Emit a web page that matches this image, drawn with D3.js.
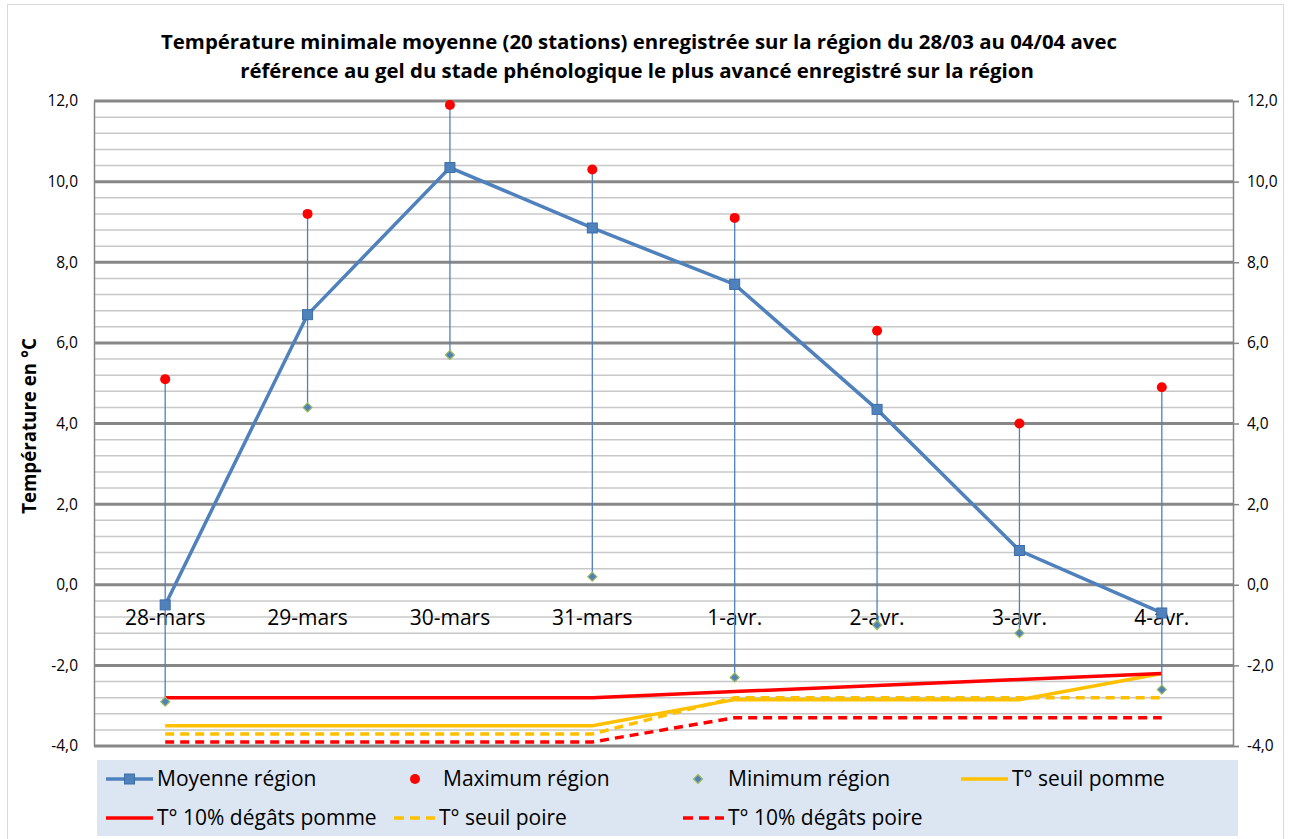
<!DOCTYPE html>
<html>
<head>
<meta charset="utf-8">
<script src="https://cdn.jsdelivr.net/npm/d3@7"></script>
<style>
body { margin: 0; background: #fff; }
text { font-family: "Open Sans", "Noto Sans", sans-serif; fill: #000; }
</style>
</head>
<body>
<div id="chart"></div>
<script>
// categories
var dates = ["28-mars", "29-mars", "30-mars", "31-mars", "1-avr.", "2-avr.", "3-avr.", "4-avr."];

// series
var moyenne = [-0.5, 6.7, 10.35, 8.85, 7.45, 4.35, 0.85, -0.7];
var maximum = [5.1, 9.2, 11.9, 10.3, 9.1, 6.3, 4.0, 4.9];
var minimum = [-2.9, 4.4, 5.7, 0.2, -2.3, -1.0, -1.2, -2.6];
var seuilPomme = [-3.5, -3.5, -3.5, -3.5, -2.85, -2.85, -2.85, -2.2];
var degatsPomme = [-2.8, -2.8, -2.8, -2.8, -2.65, -2.5, -2.35, -2.2];
var seuilPoire = [-3.7, -3.7, -3.7, -3.7, -2.8, -2.8, -2.8, -2.8];
var degatsPoire = [-3.9, -3.9, -3.9, -3.9, -3.3, -3.3, -3.3, -3.3];

var yMajor = [-4, -2, 0, 2, 4, 6, 8, 10, 12];
var yMinor = d3.range(-4, 12.01, 0.4);

var svgWidth = 1290;
var svgHeight = 839;

var plot = { left: 94, right: 1233, top: 101, bottom: 746 };

var svg = d3.select("#chart")
            .append("svg")
            .attr("width", svgWidth)
            .attr("height", svgHeight);

// outer border
svg.append("rect")
   .attr("x", 7.5).attr("y", 4.5)
   .attr("width", 1276).attr("height", 840)
   .attr("fill", "none")
   .attr("stroke", "#d9d9d9");

var xScale = d3.scaleBand()
               .domain(dates)
               .range([plot.left, plot.right]);
var xc = d => xScale(d) + xScale.bandwidth() / 2;

var yScale = d3.scaleLinear()
               .domain([-4, 12])
               .range([plot.bottom, plot.top]);

var fmt = v => d3.format(".1f")(v).replace(".", ",").replace("−", "-");

// gridlines
svg.append("g").selectAll("line")
   .data(yMinor)
   .enter()
   .append("line")
   .attr("x1", plot.left).attr("x2", plot.right)
   .attr("y1", d => yScale(d)).attr("y2", d => yScale(d))
   .attr("stroke", "#c8c8c8")
   .attr("stroke-width", 1.5);

svg.append("g").selectAll("line")
   .data(yMajor)
   .enter()
   .append("line")
   .attr("x1", plot.left).attr("x2", plot.right)
   .attr("y1", d => yScale(d)).attr("y2", d => yScale(d))
   .attr("stroke", "#878787")
   .attr("stroke-width", 3);

// axes
var leftAxis = d3.axisLeft(yScale).tickValues(yMajor).tickSize(0).tickPadding(16).tickFormat(fmt);
var rightAxis = d3.axisRight(yScale).tickValues(yMajor).tickSize(6).tickPadding(8).tickFormat(fmt);

var gl = svg.append("g")
            .attr("transform", `translate(${plot.left}, 0)`)
            .call(leftAxis);
var gr = svg.append("g")
            .attr("transform", `translate(${plot.right}, 0)`)
            .call(rightAxis);
[gl, gr].forEach(function(g){
    g.select(".domain").attr("stroke", "#868686").attr("stroke-width", 1.5);
    g.selectAll(".tick line").attr("stroke", "#868686").attr("stroke-width", 1.5);
    g.selectAll("text").style("font-size", "15.5px").style("font-family", "Open Sans");
});

// category labels at y = 0
svg.append("g").selectAll("text")
   .data(dates)
   .enter()
   .append("text")
   .attr("x", d => xc(d))
   .attr("y", yScale(0) + 40)
   .attr("text-anchor", "middle")
   .style("font-size", "21px")
   .text(d => d);

// threshold lines
var line = d3.line()
             .x((d, i) => xc(dates[i]))
             .y(d => yScale(d));

var thresholds = [
    { v: seuilPoire, color: "#ffc000", dash: "9,6" },
    { v: seuilPomme, color: "#ffc000", dash: null },
    { v: degatsPoire, color: "#ff0000", dash: "9,6" },
    { v: degatsPomme, color: "#ff0000", dash: null }
];
thresholds.forEach(function(t){
    svg.append("path")
       .attr("d", line(t.v))
       .attr("fill", "none")
       .attr("stroke", t.color)
       .attr("stroke-width", 3.5)
       .attr("stroke-dasharray", t.dash);
});

// high-low lines
svg.append("g").selectAll("line")
   .data(dates)
   .enter()
   .append("line")
   .attr("x1", d => xc(d)).attr("x2", d => xc(d))
   .attr("y1", (d, i) => yScale(maximum[i]))
   .attr("y2", (d, i) => yScale(minimum[i]))
   .attr("stroke", "#4f81bd")
   .attr("stroke-width", 1.3);

// mean line
svg.append("path")
   .attr("d", line(moyenne))
   .attr("fill", "none")
   .attr("stroke", "#4f81bd")
   .attr("stroke-width", 3.5);

svg.append("g").selectAll("rect")
   .data(moyenne)
   .enter()
   .append("rect")
   .attr("x", (d, i) => xc(dates[i]) - 5)
   .attr("y", d => yScale(d) - 5)
   .attr("width", 10).attr("height", 10)
   .attr("fill", "#4f81bd")
   .attr("stroke", "#3c6ea8")
   .attr("stroke-width", 1);

// max dots
svg.append("g").selectAll("circle")
   .data(maximum)
   .enter()
   .append("circle")
   .attr("cx", (d, i) => xc(dates[i]))
   .attr("cy", d => yScale(d))
   .attr("r", 5)
   .attr("fill", "#ff0000");

// min diamonds
var diamond = "M0,-4.5L4.5,0L0,4.5L-4.5,0Z";
svg.append("g").selectAll("path")
   .data(minimum)
   .enter()
   .append("path")
   .attr("d", diamond)
   .attr("transform", (d, i) => `translate(${xc(dates[i])}, ${yScale(d)})`)
   .attr("fill", "#4f81bd")
   .attr("stroke", "#9bbb59")
   .attr("stroke-width", 1.2);

// title
var title = svg.append("text")
               .attr("text-anchor", "middle")
               .style("font-size", "20.4px")
               .style("font-weight", "bold");
title.append("tspan").attr("x", 639).attr("y", 49)
     .text("Température minimale moyenne (20 stations) enregistrée sur la région du 28/03 au 04/04 avec");
title.append("tspan").attr("x", 637).attr("y", 78)
     .text("référence au gel du stade phénologique le plus avancé enregistré sur la région");

// y axis title
svg.append("text")
   .attr("transform", "rotate(-90)")
   .attr("x", -426)
   .attr("y", 36)
   .attr("text-anchor", "middle")
   .style("font-size", "18.7px")
   .style("font-weight", "bold")
   .text("Température en °C");

// legend
var legend = svg.append("g");
legend.append("rect")
      .attr("x", 97).attr("y", 760)
      .attr("width", 1141).attr("height", 76)
      .attr("fill", "#dce6f2");

// text x position and row of each entry
var legendItems = [
    { name: "Moyenne région", x: 157, y: 779, kind: "square", color: "#4f81bd" },
    { name: "Maximum région", x: 443, y: 779, kind: "dot", color: "#ff0000" },
    { name: "Minimum région", x: 728, y: 779, kind: "diamond", color: "#4f81bd" },
    { name: "T° seuil pomme", x: 1012, y: 779, kind: "line", color: "#ffc000" },
    { name: "T° 10% dégâts pomme", x: 157, y: 818, kind: "line", color: "#ff0000" },
    { name: "T° seuil poire", x: 439, y: 818, kind: "dash", color: "#ffc000" },
    { name: "T° 10% dégâts poire", x: 728, y: 818, kind: "dash", color: "#ff0000" }
];

legendItems.forEach(function(it){
    var g = legend.append("g").attr("transform", `translate(${it.x}, ${it.y})`);
    if (it.kind == "square" || it.kind == "line" || it.kind == "dash") {
        g.append("line")
         .attr("x1", it.kind == "dash" ? -45 : -51).attr("x2", -4)
         .attr("stroke", it.color)
         .attr("stroke-width", 3.5)
         .attr("stroke-dasharray", it.kind == "dash" ? "10,6" : null);
    }
    if (it.kind == "square") {
        g.append("rect").attr("x", -32.5).attr("y", -5).attr("width", 10).attr("height", 10)
         .attr("fill", "#4f81bd").attr("stroke", "#3c6ea8");
    }
    if (it.kind == "dot") {
        g.append("circle").attr("cx", -28).attr("r", 5).attr("fill", it.color);
    }
    if (it.kind == "diamond") {
        g.append("path").attr("d", diamond).attr("transform", "translate(-30,0)")
         .attr("fill", "#4f81bd").attr("stroke", "#9bbb59").attr("stroke-width", 1.2);
    }
    g.append("text")
     .attr("x", 0)
     .attr("y", 0)
     .attr("dy", "0.35em")
     .style("font-size", "21px")
     .text(it.name);
});
</script>
</body>
</html>
